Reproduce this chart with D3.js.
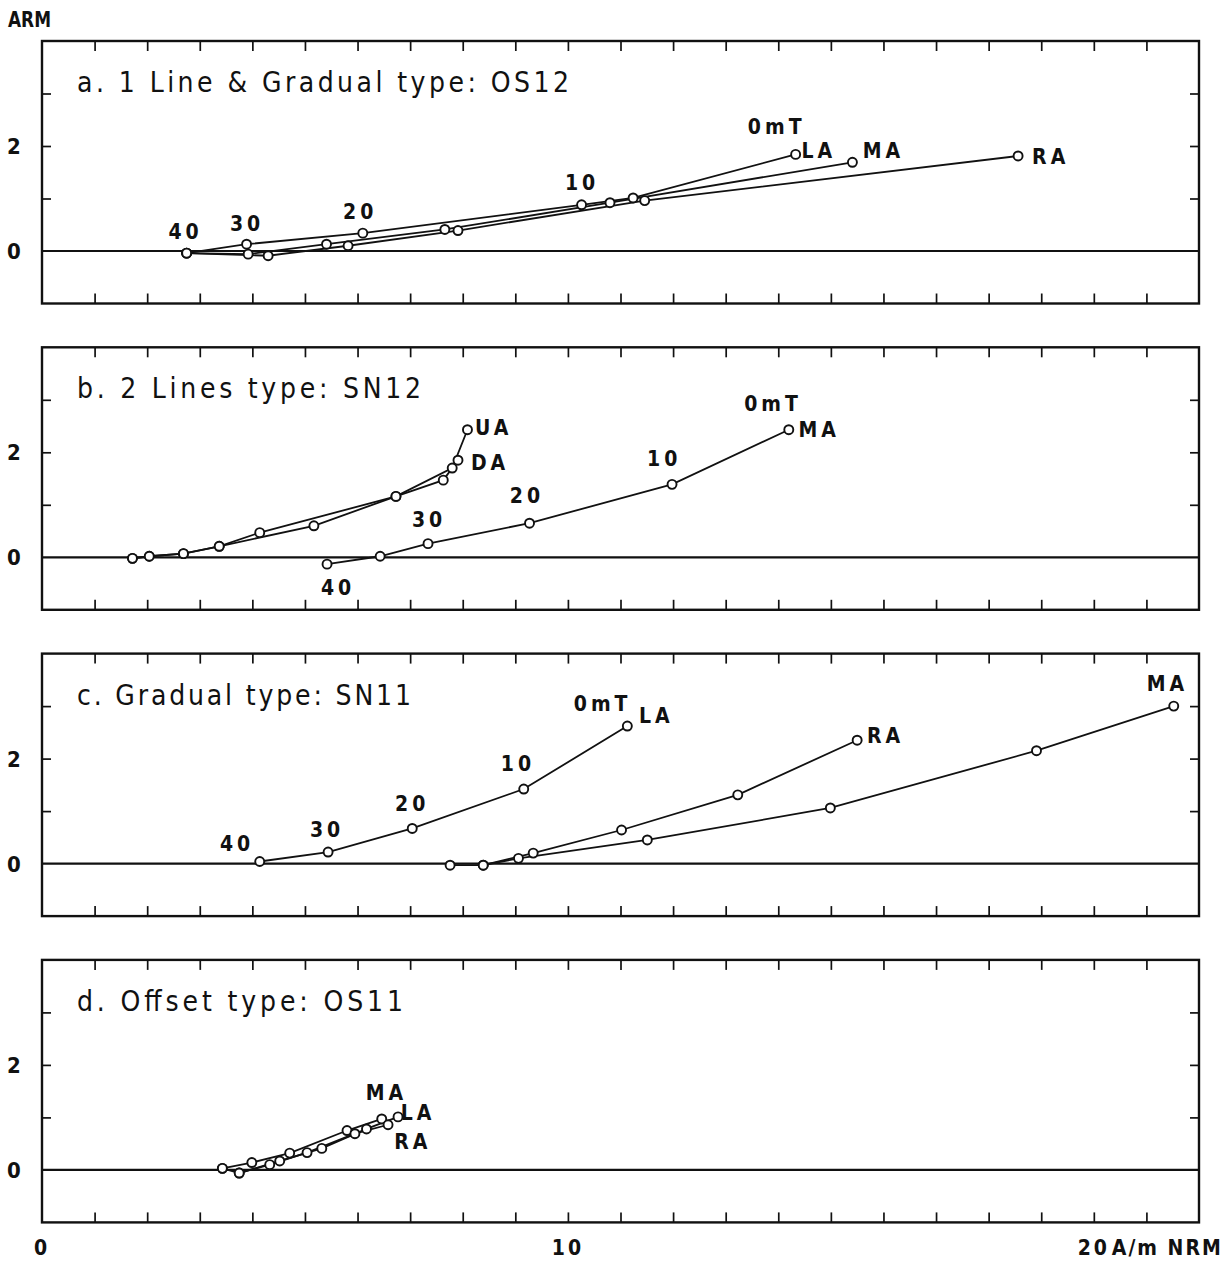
<!DOCTYPE html>
<html>
<head>
<meta charset="utf-8">
<script src="https://cdn.jsdelivr.net/npm/d3@7"></script>
<style>
  html, body { margin: 0; padding: 0; background: #fff; }
  svg text { fill: #111; font-stretch: condensed; }
</style>
</head>
<body>
<svg id="chart" width="1231" height="1263"></svg>
<script>
// ---------------- data ----------------
const panelTitles = [
  "a. 1 Line & Gradual type: OS12",
  "b. 2 Lines type: SN12",
  "c. Gradual type: SN11",
  "d. Offset type: OS11"
];
const xDomain = [0, 22];
const yDomain = [-1, 4];
const xTickValues = [1,2,3,4,5,6,7,8,9,10,11,12,13,14,15,16,17,18,19,20,21];
const yTickValues = [1, 2, 3];
const yTickLabels = [0, 2];
const xTickLabels = [0, 10, 20];
const xUnitLabel = "A/m NRM";
const yAxisTitle = "ARM";

// panel a: OS12  [NRM, ARM]
const a_LA = [[2.75,-0.04],[3.89,0.13],[6.10,0.34],[10.26,0.88],[11.24,1.01],[14.33,1.84]];
const a_MA = [[2.75,-0.04],[3.92,-0.06],[5.41,0.13],[7.66,0.41],[10.80,0.92],[15.41,1.69]];
const a_RA = [[2.75,-0.04],[4.30,-0.09],[5.82,0.10],[7.91,0.39],[11.46,0.96],[18.56,1.81]];
// panel b: SN12
const b_UA = [[1.72,-0.02],[2.04,0.02],[2.69,0.07],[3.37,0.21],[4.14,0.47],[6.73,1.16],[7.80,1.70],[8.09,2.43]];
const b_DA = [[1.72,-0.02],[2.04,0.02],[2.69,0.07],[3.37,0.21],[5.17,0.60],[6.73,1.16],[7.63,1.47],[7.91,1.85]];
const b_MA = [[5.42,-0.13],[6.43,0.02],[7.34,0.26],[9.27,0.65],[11.98,1.39],[14.20,2.43]];
// panel c: SN11
const c_LA = [[4.14,0.04],[5.44,0.22],[7.04,0.67],[9.16,1.42],[11.13,2.62]];
const c_RA = [[7.76,-0.03],[8.39,-0.03],[9.34,0.20],[11.02,0.64],[13.23,1.31],[15.50,2.35]];
const c_MA = [[8.39,-0.03],[9.06,0.10],[11.51,0.45],[14.99,1.06],[18.91,2.15],[21.52,3.00]];
// panel d: OS11
const d_MA = [[3.43,0.03],[3.99,0.14],[4.71,0.32],[5.80,0.75],[6.46,0.97]];
const d_LA = [[3.43,0.03],[3.75,-0.06],[4.52,0.17],[5.32,0.41],[6.17,0.78],[6.77,1.01]];
const d_RA = [[3.75,-0.06],[4.33,0.10],[5.04,0.33],[5.95,0.69],[6.58,0.86]];

// annotation labels [text, NRM, ARM]
const a_labels = [["40",2.73,0.37],["30",3.90,0.53],["20",6.05,0.75],["10",10.27,1.30],
  ["0mT",13.97,2.37],["LA",14.77,1.92],["MA",16.00,1.91],["RA",19.18,1.80]];
const b_labels = [["UA",8.59,2.47],["DA",8.52,1.80],["20",9.22,1.17],["30",7.36,0.72],
  ["40",5.63,-0.58],["0mT",13.90,2.93],["MA",14.78,2.43],["10",11.83,1.88]];
const c_labels = [["40",3.71,0.38],["30",5.42,0.65],["20",7.04,1.15],["10",9.05,1.91],
  ["0mT",10.66,3.05],["LA",11.68,2.82],["RA",16.04,2.44],["MA",21.40,3.43]];
const d_labels = [["MA",6.55,1.47],["LA",7.15,1.09],["RA",7.05,0.54]];

const panels = [
  { series: [a_LA, a_MA, a_RA], labels: a_labels },
  { series: [b_UA, b_DA, b_MA], labels: b_labels },
  { series: [c_LA, c_RA, c_MA], labels: c_labels },
  { series: [d_MA, d_LA, d_RA], labels: d_labels }
];

// ---------------- layout ----------------
const svg = d3.select("#chart");
const left = 42, right = 1199;
const panelH = 262.5, panelStep = 306.3, firstTop = 41;
const titleWidths = [492, 344, 334, 326];
const FONT = "'DejaVu Sans Condensed', 'DejaVu Sans', sans-serif";

const x = d3.scaleLinear().domain(xDomain).range([left, right]);

svg.append("text")
  .attr("x", 8).attr("y", 27)
  .attr("font-family", FONT).attr("font-weight", "bold")
  .attr("font-size", 22)
  .attr("textLength", 43).attr("lengthAdjust", "spacingAndGlyphs")
  .text(yAxisTitle);

panels.forEach((p, i) => {
  const top = firstTop + i * panelStep;
  const y = d3.scaleLinear().domain(yDomain).range([top + panelH, top]);
  const g = svg.append("g");

  // ticks
  const tickStyle = sel => {
    sel.select(".domain").remove();
    sel.selectAll("line").attr("stroke", "#111").attr("stroke-width", 1.7);
    sel.selectAll("text").remove();
  };
  g.append("g").attr("transform", `translate(0,${y(yDomain[0])})`)
    .call(d3.axisBottom(x).tickValues(xTickValues).tickSize(-10).tickFormat(""))
    .call(tickStyle);
  g.append("g").attr("transform", `translate(0,${y(yDomain[1])})`)
    .call(d3.axisTop(x).tickValues(xTickValues).tickSize(-10).tickFormat(""))
    .call(tickStyle);
  g.append("g").attr("transform", `translate(${left},0)`)
    .call(d3.axisLeft(y).tickValues(yTickValues).tickSize(-9).tickFormat(""))
    .call(tickStyle);
  g.append("g").attr("transform", `translate(${right},0)`)
    .call(d3.axisRight(y).tickValues(yTickValues).tickSize(-9).tickFormat(""))
    .call(tickStyle);

  // frame
  g.append("rect")
    .attr("x", left).attr("y", y(yDomain[1]))
    .attr("width", right - left).attr("height", y(yDomain[0]) - y(yDomain[1]))
    .attr("fill", "none").attr("stroke", "#111").attr("stroke-width", 2.4);

  // zero line
  g.append("line")
    .attr("x1", left).attr("x2", right)
    .attr("y1", y(0)).attr("y2", y(0))
    .attr("stroke", "#111").attr("stroke-width", 2.2);

  // y tick labels
  g.selectAll("text.ylab").data(yTickLabels).join("text")
    .attr("class", "ylab")
    .attr("x", 14).attr("y", d => y(d))
    .attr("dy", "0.36em")
    .attr("text-anchor", "middle")
    .attr("font-family", FONT).attr("font-weight", "bold").attr("font-size", 22)
    .text(d => d);

  // title
  g.append("text")
    .attr("x", 77).attr("y", top + 51)
    .attr("font-family", FONT).attr("font-size", 28)
    .attr("textLength", titleWidths[i]).attr("lengthAdjust", "spacing")
    .text(panelTitles[i]);

  // series
  const line = d3.line().x(d => x(d[0])).y(d => y(d[1]));
  p.series.forEach(s => {
    g.append("path").datum(s)
      .attr("d", line)
      .attr("fill", "none").attr("stroke", "#111").attr("stroke-width", 1.8);
  });
  p.series.forEach(s => {
    g.selectAll(null).data(s).join("circle")
      .attr("cx", d => x(d[0])).attr("cy", d => y(d[1]))
      .attr("r", 4.5)
      .attr("fill", "#fff").attr("stroke", "#111").attr("stroke-width", 1.9);
  });

  // annotations
  g.selectAll("text.ann").data(p.labels).join("text")
    .attr("class", "ann")
    .attr("x", d => x(d[1])).attr("y", d => y(d[2]))
    .attr("dy", "0.36em")
    .attr("text-anchor", "middle")
    .attr("font-family", FONT).attr("font-weight", "bold").attr("font-size", 21)
    .attr("letter-spacing", 4)
    .text(d => d[0]);
});

// bottom x labels
const lastBottom = firstTop + 3 * panelStep + panelH;
svg.selectAll("text.xlab").data(xTickLabels).join("text")
  .attr("class", "xlab")
  .attr("x", d => x(d)).attr("y", lastBottom + 33)
  .attr("text-anchor", "middle")
  .attr("font-family", FONT).attr("font-weight", "bold").attr("font-size", 21)
  .attr("letter-spacing", 3)
  .text(d => d);
svg.append("text")
  .attr("x", x(xTickLabels[2]) + 18).attr("y", lastBottom + 33)
  .attr("font-family", FONT).attr("font-weight", "bold").attr("font-size", 21)
  .attr("letter-spacing", 2)
  .text(xUnitLabel);
</script>
</body>
</html>
